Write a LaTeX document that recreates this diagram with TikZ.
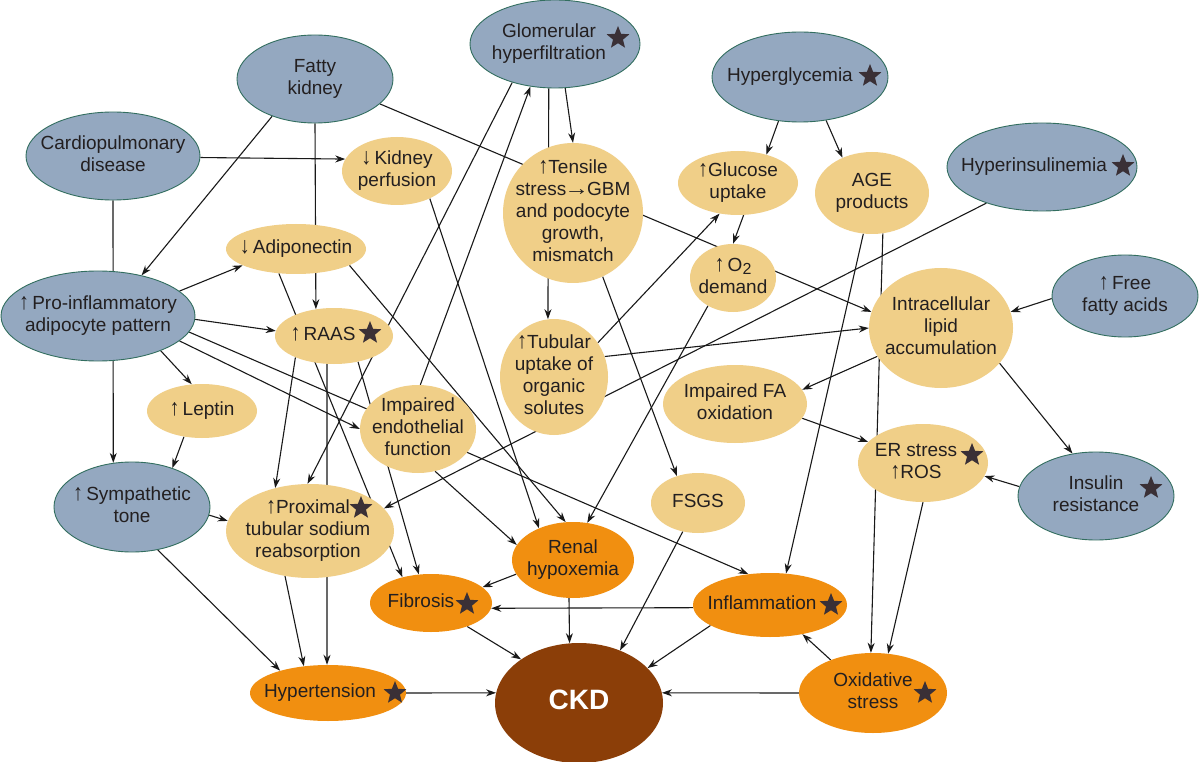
\documentclass[tikz,border=0pt]{standalone}
\usepackage{fontspec}
\setmainfont{Liberation Sans}
\usetikzlibrary{shapes.geometric,arrows.meta,backgrounds}
\definecolor{bluef}{RGB}{148,168,192}
\definecolor{blued}{RGB}{50,110,95}
\definecolor{yel}{RGB}{240,207,136}
\definecolor{ora}{RGB}{241,143,16}
\definecolor{ckdc}{RGB}{139,62,8}
\definecolor{txt}{RGB}{35,31,32}
\definecolor{stc}{RGB}{58,48,54}
\definecolor{lnc}{RGB}{25,25,25}
\newsavebox\ntbox
\newcommand\ntxt[2][0pt]{\sbox\ntbox{\begin{tabular}{@{}c@{}}#2\end{tabular}}%
  \makebox[0pt]{\smash{\raisebox{\dimexpr(\dp\ntbox-\ht\ntbox)/2\relax}{\kern#1\usebox\ntbox\kern-#1}}}}
\newcommand\upa{\scalebox{1.05}[1.22]{↑}}
\newcommand\dna{\scalebox{1.05}[1.22]{↓}}
\newcommand\rta{\kern-2pt\scalebox{1.3}[1.1]{→}\kern-2pt}
\begin{document}
\begin{tikzpicture}[x=1pt,y=-1pt,
  base/.style={ellipse,inner sep=0pt,text=txt,font=\fontsize{19}{22}\selectfont},
  bnode/.style={base,fill=bluef,draw=blued,line width=0.9pt},
  ynode/.style={base,fill=yel},
  onode/.style={base,fill=ora},
  sz/.style n args={2}{minimum width=#1pt,minimum height=#2pt},
  stmark/.style={star,star points=5,star point ratio=2.3,fill=stc,inner sep=0pt,minimum size=24pt},
  conn/.style={line width=1.1pt,draw=lnc},
  arr/.style={-{Stealth[length=10pt,width=7pt]}}
]
\useasboundingbox (0,0) rectangle (1200,762);

% blue (causes)
\node[bnode,sz={156}{88}] (fatty) at (315,79) {\ntxt{Fatty\\kidney}};
\node[bnode,sz={174}{88}] (cardio) at (113,156) {\ntxt{Cardiopulmonary\\disease}};
\node[bnode,sz={170}{88}] (glom) at (555,44) {\ntxt[-6pt]{Glomerular\\hyperfiltration}};
\node[bnode,sz={176}{90}] (hyperg) at (800,77) {\ntxt[-10pt]{Hyperglycemia}};
\node[bnode,sz={190}{88}] (hyperi) at (1042,167) {\ntxt[-8pt]{Hyperinsulinemia}};
\node[bnode,sz={194}{90}] (proinf) at (98,316) {\ntxt{\upa\,Pro-inflammatory\\adipocyte pattern}};
\node[bnode,sz={146}{82}] (ffa) at (1125,296) {\ntxt{\upa\,Free\\fatty acids}};
\node[bnode,sz={156}{90}] (symp) at (132,507) {\ntxt{\upa\,Sympathetic\\tone}};
\node[bnode,sz={156}{88}] (insres) at (1096,496) {\ntxt{Insulin\\resistance}};

% yellow (mechanisms)
\node[ynode,sz={110}{68}] (kperf) at (397,171) {\ntxt{\dna\,Kidney\\perfusion}};
\node[ynode,sz={140}{50}] (adipo) at (296,249) {\ntxt{\dna\,Adiponectin}};
\node[ynode,sz={140}{140}] (tensile) at (573,213) {\ntxt{\upa Tensile\\stress\rta GBM\\and podocyte\\growth,\\mismatch}};
\node[ynode,sz={120}{64}] (gluc) at (738,183) {\ntxt{\upa Glucose\\uptake}};
\node[ynode,sz={114}{82}] (age) at (872,193) {\ntxt{AGE\\products}};
\node[ynode,sz={86}{68}] (o2) at (733,278) {\ntxt{\upa\,O\raisebox{-3pt}{\fontsize{16}{16}\selectfont 2}\\demand}};
\node[ynode,sz={118}{56}] (raas) at (334,336) {\ntxt[-11pt]{\upa\,RAAS}};
\node[ynode,sz={110}{54}] (leptin) at (202,411) {\ntxt{\upa\,Leptin}};
\node[ynode,sz={116}{88}] (endo) at (418,429) {\ntxt{Impaired\\endothelial\\function}};
\node[ynode,sz={108}{116}] (tubular) at (554,377) {\ntxt{\upa Tubular\\uptake of\\organic\\solutes}};
\node[ynode,sz={144}{120}] (lipid) at (941,328) {\ntxt{Intracellular\\lipid\\accumulation}};
\node[ynode,sz={144}{78}] (faox) at (735,404) {\ntxt{Impaired FA\\oxidation}};
\node[ynode,sz={130}{78}] (er) at (923,463) {\ntxt[-7pt]{ER stress\\\upa ROS}};
\node[ynode,sz={168}{94}] (prox) at (310,531) {\ntxt[-2pt]{\upa Proximal\\tubular sodium\\reabsorption}};
\node[ynode,sz={94}{60}] (fsgs) at (698,503) {\ntxt{FSGS}};

% orange (outcomes)
\node[onode,sz={122}{76}] (hypox) at (573,560) {\ntxt{Renal\\hypoxemia}};
\node[onode,sz={122}{58}] (fibrosis) at (431,603) {\ntxt[-10pt]{Fibrosis}};
\node[onode,sz={154}{64}] (inflam) at (770,605) {\ntxt[-8pt]{Inflammation}};
\node[onode,sz={156}{56}] (hyper) at (328,693) {\ntxt[-8pt]{Hypertension}};
\node[onode,sz={148}{80}] (oxid) at (873,693) {\ntxt{Oxidative\\stress}};
\node[base,fill=ckdc,sz={168}{120},text=white,font=\fontsize{28}{32}\selectfont\bfseries] (ckd) at (579,703) {\ntxt{CKD}};

% stars
\node[stmark] (st1) at (618,38) {};
\node[stmark] (st2) at (870,76) {};
\node[stmark] (st3) at (1123,166) {};
\node[stmark] (st4) at (370,333) {};
\node[stmark] (st5) at (361,508) {};
\node[stmark] (st6) at (972,455) {};
\node[stmark] (st7) at (1151,488) {};
\node[stmark] (st8) at (395,693) {};
\node[stmark] (st9) at (467,604) {};
\node[stmark] (st10) at (831,605) {};
\node[stmark] (st11) at (925,693) {};

\begin{scope}[on background layer]
\fill[white] (0,0) rectangle (1200,762);
\begin{scope}[conn]
\draw[arr] (fatty.221) -- (proinf.43);
\draw[arr] (fatty.270) -- (raas.124);
\draw[arr] (fatty.339) -- (lipid.167);
\draw[arr] (cardio.359) -- (kperf.167);
\draw[arr] (cardio.270) -- (symp.113);
\draw[arr] (proinf.17) -- (adipo.197);
\draw[arr] (proinf.358) -- (raas.175);
\draw[arr] (proinf.331) -- (leptin.111);
\draw[arr] (proinf.343) -- (endo.180);
\draw[arr] (proinf.350) -- (inflam.125);
\draw[arr] (leptin.235) -- (symp.44);
\draw[arr] (symp.354) -- (prox.173);
\draw[arr] (symp.301) -- (hyper.155);
\draw[arr] (prox.241) -- (hyper.132);
\draw[arr] (raas.256) -- (hyper.92);
\draw[arr] (raas.209) -- (prox.129);
\draw[arr] (raas.313) -- (fibrosis.113);
\draw[arr] (adipo.235) -- (fibrosis.138);
\draw[arr] (adipo.343) -- (hypox.101);
\draw[arr] (kperf.320) -- (hypox.137);
\draw[arr] (glom.222) -- (prox.93);
\draw[arr] (endo.87) -- (glom.240);
\draw[arr] (glom.283) -- (tensile.90);
\draw[arr] (glom.262) -- (tubular.96);
\draw[arr] (tensile.295) -- (fsgs.128);
\draw[arr] (hyperg.244) -- (gluc.45);
\draw[arr] (hyperg.301) -- (age.130);
\draw[arr] (gluc.280) -- (o2.90);
\draw[arr] (tubular.38) -- (gluc.239);
\draw[arr] (tubular.22) -- (lipid.180);
\draw[arr] (hyperi.213) -- (prox.17);
\draw[arr] (age.258) -- (inflam.63);
\draw[arr] (age.285) -- (oxid.93);
\draw[arr] (ffa.182) -- (lipid.13);
\draw[arr] (lipid.204) -- (faox.12);
\draw[arr] (lipid.329) -- (insres.119);
\draw[arr] (faox.348) -- (er.159);
\draw[arr] (insres.173) -- (er.348);
\draw[arr] (er.270) -- (oxid.69);
\draw[arr] (oxid.142) -- (inflam.318);
\draw[arr] (oxid.180) -- (ckd.7);
\draw[arr] (inflam.182) -- (fibrosis.355);
\draw[arr] (inflam.199) -- (ckd.27);
\draw[arr] (hypox.194) -- (fibrosis.17);
\draw[arr] (hypox.264) -- (ckd.99);
\draw[arr] (fibrosis.327) -- (ckd.143);
\draw[arr] (hyper.0) -- (ckd.173);
\draw[arr] (fsgs.242) -- (ckd.52);
\draw[arr] (o2.228) -- (hypox.69);
\draw[arr] (endo.292) -- (hypox.165);
\end{scope}
\end{scope}
\end{tikzpicture}
\end{document}
